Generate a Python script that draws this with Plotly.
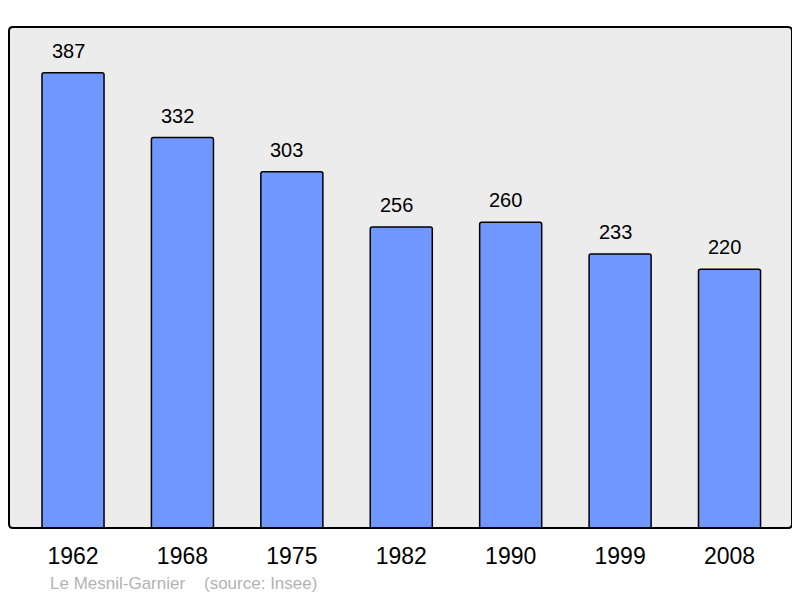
import plotly.graph_objects as go

years = ["1962", "1968", "1975", "1982", "1990", "1999", "2008"]
population = [387, 332, 303, 256, 260, 233, 220]
source_text = "Le Mesnil-Garnier    (source: Insee)"

# page body has an 8px margin; compensate so the chart lands where the reference is
OFF = 8
W, H = 800 - OFF, 598 - OFF
L, R, T, B = 9 - OFF, 8, 27 - OFF, 70
PW, PH = W - L - R, H - T - B

fig = go.Figure()
fig.add_trace(go.Bar(
    x=list(range(len(years))), y=population,
    width=0.567,
    marker=dict(color="#7097ff", line=dict(color="black", width=1.5), cornerradius=2),
    hoverinfo="skip",
))

for i, v in enumerate(population):
    fig.add_annotation(x=i, y=v, text=str(v), showarrow=False, yanchor="bottom",
                       yshift=9, xshift=-5, font=dict(size=20, color="black"))

fig.add_annotation(x=(48 - 9) / PW, y=(528 - 583) / PH, xref="paper", yref="paper",
                   text=source_text, showarrow=False, xanchor="left", yanchor="middle",
                   font=dict(size=17, color="#b3b3b3"))

# rounded border
rx, ry = 4 / PW, 4 / PH
path = (f"M {rx},0 L {1-rx},0 Q 1,0 1,{ry} L 1,{1-ry} Q 1,1 {1-rx},1 "
        f"L {rx},1 Q 0,1 0,{1-ry} L 0,{ry} Q 0,0 {rx},0 Z")
fig.add_shape(type="path", xref="paper", yref="paper", path=path,
              line=dict(color="black", width=2), layer="above")

fig.update_layout(
    width=W, height=H,
    margin=dict(l=L, r=R, t=T, b=B),
    paper_bgcolor="white", plot_bgcolor="#ececec",
    font=dict(family="Liberation Sans, Arial, sans-serif", color="black"),
    showlegend=False,
    xaxis=dict(range=[-0.585, 6.571], tickmode="array", tickvals=list(range(len(years))),
               ticktext=years, showgrid=False, zeroline=False, ticks="",
               tickfont=dict(size=23), ticklabelstandoff=12),
    yaxis=dict(range=[0, 426], showgrid=False, zeroline=False, showticklabels=False, ticks=""),
)

fig.write_html("out.html")
